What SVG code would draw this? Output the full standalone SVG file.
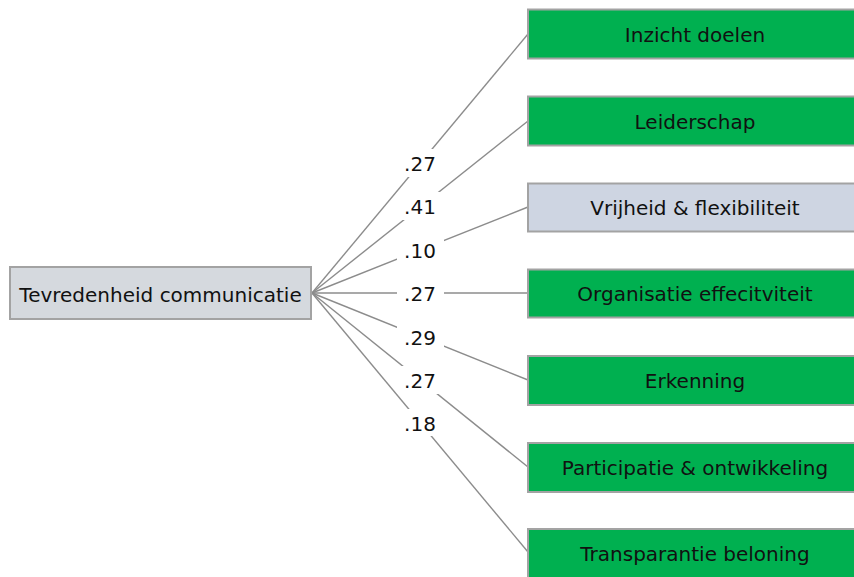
<svg xmlns="http://www.w3.org/2000/svg" width="854" height="577" viewBox="0 0 854 577">
  <style>
    .box { stroke: #a3a3a3; stroke-width: 2; }
    .green { fill: #00b050; }
    .grey { fill: #d5d9de; }
    .blue { fill: #ced5e2; }
    .txt { font-family: "DejaVu Sans", Verdana, sans-serif; font-size: 20px; fill: #111; text-anchor: middle; }
    .edge { stroke: #8c8c8c; stroke-width: 1.4; fill: none; }
    .lblbg { fill: #ffffff; }
  </style>
  <rect width="854" height="577" fill="#ffffff"/>

  <g id="connectors">
    <line class="edge" x1="312" y1="293" x2="528" y2="34"/>
    <line class="edge" x1="312" y1="293" x2="528" y2="121"/>
    <line class="edge" x1="312" y1="293" x2="528" y2="207"/>
    <line class="edge" x1="312" y1="293" x2="528" y2="293"/>
    <line class="edge" x1="312" y1="293" x2="528" y2="380"/>
    <line class="edge" x1="312" y1="293" x2="528" y2="467"/>
    <line class="edge" x1="312" y1="293" x2="528" y2="552"/>
    <!-- coefficient labels on the connector midpoints -->
    <rect class="lblbg" x="397" y="149" width="47" height="28"/>
    <text class="txt" x="420" y="171">.27</text>
    <rect class="lblbg" x="397" y="192" width="47" height="28"/>
    <text class="txt" x="420" y="214">.41</text>
    <rect class="lblbg" x="397" y="236" width="47" height="28"/>
    <text class="txt" x="420" y="258">.10</text>
    <rect class="lblbg" x="397" y="279" width="47" height="28"/>
    <text class="txt" x="420" y="301">.27</text>
    <rect class="lblbg" x="397" y="323" width="47" height="28"/>
    <text class="txt" x="420" y="345">.29</text>
    <rect class="lblbg" x="397" y="366" width="47" height="28"/>
    <text class="txt" x="420" y="388">.27</text>
    <rect class="lblbg" x="397" y="409" width="47" height="27"/>
    <text class="txt" x="420" y="431">.18</text>
  </g>

  <g id="tevredenheid-communicatie">
    <rect class="box grey" x="10" y="267" width="301" height="52"/>
    <text class="txt" x="160.5" y="301.5">Tevredenheid communicatie</text>
  </g>

  <g id="inzicht-doelen">
    <rect class="box green" x="528" y="9.5" width="334" height="49"/>
    <text class="txt" x="695" y="42">Inzicht doelen</text>
  </g>
  <g id="leiderschap">
    <rect class="box green" x="528" y="96.5" width="334" height="49"/>
    <text class="txt" x="695" y="129">Leiderschap</text>
  </g>
  <g id="vrijheid-flexibiliteit">
    <rect class="box blue" x="528" y="183.5" width="334" height="48"/>
    <text class="txt" x="695" y="215">Vrijheid &amp; flexibiliteit</text>
  </g>
  <g id="organisatie-effectiviteit">
    <rect class="box green" x="528" y="269.5" width="334" height="48"/>
    <text class="txt" x="695" y="301">Organisatie effecitviteit</text>
  </g>
  <g id="erkenning">
    <rect class="box green" x="528" y="356" width="334" height="49"/>
    <text class="txt" x="695" y="388">Erkenning</text>
  </g>
  <g id="participatie-ontwikkeling">
    <rect class="box green" x="528" y="443" width="334" height="49"/>
    <text class="txt" x="695" y="475">Participatie &amp; ontwikkeling</text>
  </g>
  <g id="transparantie-beloning">
    <rect class="box green" x="528" y="529" width="334" height="60"/>
    <text class="txt" x="695" y="561">Transparantie beloning</text>
  </g>
</svg>
